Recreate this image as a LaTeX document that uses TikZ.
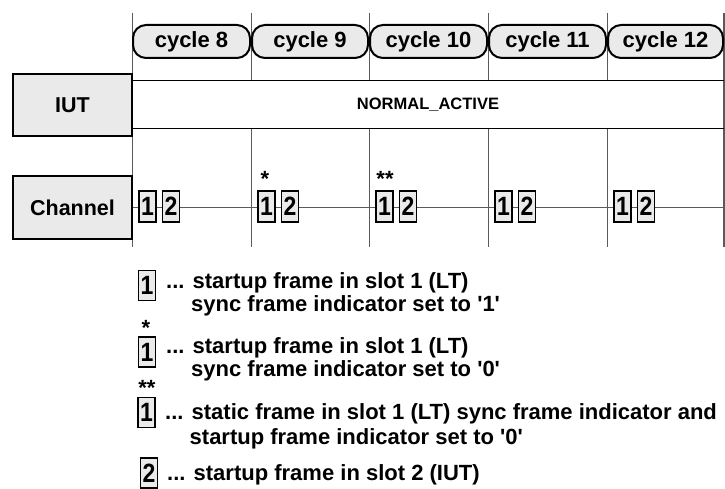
\documentclass[tikz,border=0pt]{standalone}
\usepackage{fontspec}
\setmainfont{Liberation Sans}[BoldFont={Liberation Sans Bold}]
\definecolor{boxgray}{RGB}{234,234,234}
\definecolor{gridgray}{RGB}{90,90,90}
\newcommand\framedigit[1]{\scalebox{1}[1.15]{#1}}
\newcommand\sq{\XeTeXglyph\XeTeXcharglyph"0027\relax}
\begin{document}
\begin{tikzpicture}[x=1pt,y=-1pt,
  gridline/.style={draw=gridgray, line width=0.9pt},
  bandline/.style={draw=black, line width=0.9pt},
  chline/.style={draw=gridgray, line width=0.9pt},
  pill/.style={draw=black, line width=2pt, fill=boxgray, rounded corners=13pt,
    minimum height=33pt, inner sep=0pt, font=\fontsize{22}{26}\selectfont\bfseries},
  rowbox/.style={draw=black, line width=2.6pt, fill=boxgray, minimum width=119pt,
    inner sep=0pt, font=\fontsize{21.5}{26}\selectfont\bfseries},
  framebox/.style={draw=black, line width=1.1pt, fill=boxgray, minimum width=17pt,
    minimum height=31pt, inner sep=0pt, font=\fontsize{23}{26}\selectfont\bfseries},
  star/.style={inner sep=0pt, font=\fontsize{22}{26}\selectfont\bfseries},
  legtext/.style={anchor=west, inner sep=0pt, font=\fontsize{22}{26}\selectfont\bfseries},
  stateText/.style={inner sep=0pt, font=\fontsize{16.5}{20}\selectfont\bfseries}
]
\useasboundingbox (0,0) rectangle (725,489);

% grid lines
\draw[gridline] (132,13) -- (132,247);
\foreach \L in {251,369,488,607}{
  \draw[gridline] (\L,13) -- (\L,80);
  \draw[gridline] (\L,128) -- (\L,247);
}
\draw[gridline, line width=1.4pt] (724,13) -- (724,247);

% band lines
\draw[bandline] (132,80) -- (724,80);
\draw[bandline] (132,128) -- (724,128);

% cycle pills
\node[pill, minimum width=117pt] (c8) at (191.5,41.5) {cycle 8};
\node[pill, minimum width=116pt] (c9) at (310,41.5) {cycle 9};
\node[pill, minimum width=117pt] (c10) at (428.5,41.5) {cycle 10};
\node[pill, minimum width=117pt] (c11) at (547.5,41.5) {cycle 11};
\node[pill, minimum width=115pt] (c12) at (665.5,41.5) {cycle 12};

% row labels
\node[rowbox, minimum height=62pt] (iut) at (72.5,105) {IUT};
\node[rowbox, minimum height=63pt] (chan) at (72.5,207.5) {Channel};

\node[stateText] (state) at (428,105) {NORMAL\_ACTIVE};

% channel line
\coordinate (chend) at (724,207.5);
\draw[chline] (chan.east) -- (chend);

% frames
\foreach \n/\L in {8/132,9/251,10/369,11/488,12/607}{
  \node[framebox] (f\n a) at (\L+15.5,206.5) {\framedigit{1}};
  \node[framebox] (f\n b) at (\L+39,206.5) {\framedigit{2}};
}
\node[star] (s9) at (265,179) {*};
\node[star] (s10) at (385,179) {**};

% legend
\node[framebox, minimum height=30pt] (lA) at (147,285.5) {\framedigit{1}};
\node[legtext] (tA1) at (166,283) {... startup frame in slot 1 (LT)};
\node[legtext] (tA2) at (191,306) {sync frame indicator set to \sq 1\sq};

\node[star] (lsB) at (146,328) {*};
\node[framebox, minimum height=30pt] (lB) at (147,352) {\framedigit{1}};
\node[legtext] (tB1) at (166,348) {... startup frame in slot 1 (LT)};
\node[legtext] (tB2) at (191,371) {sync frame indicator set to \sq 0\sq};

\node[star] (lsC) at (147,388) {**};
\node[framebox, minimum height=30pt] (lC) at (146.5,412.5) {\framedigit{1}};
\node[legtext] (tC1) at (165,414) {... static frame in slot 1 (LT) sync frame indicator and};
\node[legtext] (tC2) at (189.5,439) {startup frame indicator set to \sq 0\sq};

\node[framebox, minimum height=30pt] (lD) at (149,473) {\framedigit{2}};
\node[legtext] (tD1) at (167,475) {... startup frame in slot 2 (IUT)};
\end{tikzpicture}
\end{document}
